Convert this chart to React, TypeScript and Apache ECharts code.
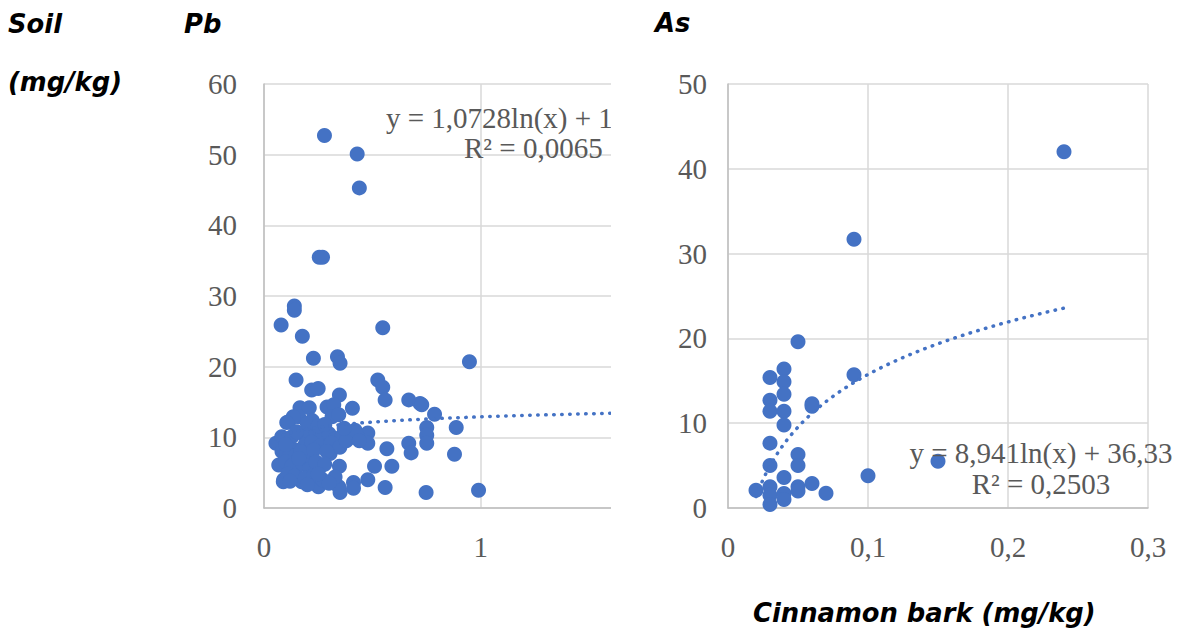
import React, { useEffect, useRef } from "react";
import * as echarts from "echarts";

// Pb: soil (y) vs cinnamon bark (x), mg/kg
const pbPoints: number[][] = [
  [0.279, 52.7], [0.43, 50.1], [0.44, 45.3], [0.255, 35.5], [0.27, 35.5],
  [0.14, 28.6], [0.14, 28.0], [0.079, 25.9], [0.548, 25.5], [0.177, 24.3],
  [0.228, 21.2], [0.339, 21.4], [0.351, 20.5], [0.948, 20.7], [0.148, 18.1],
  [0.525, 18.1], [0.548, 17.1], [0.559, 15.3], [0.22, 16.7], [0.25, 16.9],
  [0.348, 16.0], [0.668, 15.3], [0.72, 14.8], [0.728, 14.6], [0.787, 13.25],
  [0.887, 11.4], [0.751, 11.4], [0.751, 10.3], [0.751, 9.15], [0.668, 9.15],
  [0.679, 7.8], [0.879, 7.6], [0.567, 8.4], [0.59, 5.9], [0.51, 5.9],
  [0.479, 4.0], [0.559, 2.9], [0.748, 2.2], [0.99, 2.5], [0.413, 3.6],
  [0.413, 2.8], [0.351, 2.2], [0.348, 5.9], [0.479, 10.6], [0.479, 9.15],
  [0.408, 14.1], [0.291, 14.3], [0.322, 14.6], [0.166, 14.2], [0.209, 14.2],
  [0.314, 12.9], [0.345, 13.2], [0.114, 12.2], [0.16, 12.9], [0.222, 12.4],
  [0.135, 12.9], [0.105, 12.1], [0.055, 9.15], [0.082, 10.1], [0.129, 10.1],
  [0.083, 8.0], [0.145, 8.2], [0.068, 6.1], [0.091, 4.0], [0.089, 3.7],
  [0.174, 3.7], [0.251, 3.0], [0.345, 3.0], [0.151, 5.85], [0.259, 5.85],
  [0.328, 4.4], [0.212, 7.3], [0.305, 7.7], [0.12, 7.5], [0.18, 10.5],
  [0.2, 11.0], [0.24, 10.4], [0.27, 10.2], [0.3, 10.5], [0.33, 9.8],
  [0.36, 10.2], [0.4, 10.0], [0.43, 10.2], [0.19, 9.0], [0.22, 9.3],
  [0.26, 8.8], [0.31, 9.2], [0.35, 8.6], [0.1, 9.0], [0.15, 10.8],
  [0.2, 12.0], [0.25, 11.6], [0.28, 11.8], [0.17, 8.0], [0.23, 8.2],
  [0.29, 8.0], [0.1, 6.5], [0.13, 6.0], [0.18, 6.2], [0.21, 5.5],
  [0.24, 6.5], [0.28, 6.2], [0.11, 4.8], [0.14, 4.5], [0.19, 4.2],
  [0.23, 4.6], [0.27, 4.0], [0.3, 3.5], [0.12, 3.8], [0.2, 3.3],
  [0.25, 4.8], [0.16, 7.0], [0.38, 9.5], [0.42, 11.0], [0.37, 11.3],
  [0.44, 9.5],
];

// As: soil (y) vs cinnamon bark (x), mg/kg
const asPoints: number[][] = [
  [0.24, 42.0], [0.09, 31.7], [0.05, 19.6], [0.04, 16.4], [0.03, 15.4],
  [0.04, 14.9], [0.04, 13.4], [0.09, 15.7], [0.03, 12.7], [0.03, 11.4],
  [0.04, 11.4], [0.06, 12.3], [0.06, 12.0], [0.04, 9.8], [0.03, 7.65],
  [0.05, 6.3], [0.05, 5.0], [0.03, 5.0], [0.04, 3.6], [0.1, 3.8],
  [0.15, 5.5], [0.02, 2.1], [0.03, 2.5], [0.03, 1.5], [0.03, 0.4],
  [0.04, 1.7], [0.04, 1.0], [0.05, 2.5], [0.05, 2.0], [0.06, 2.9],
  [0.07, 1.75],
];

// Logarithmic trend lines as printed on the chart: y = a*ln(x) + b
const pbTrend = { a: 1.0728, b: 12.9, from: 0.055, to: 1.735 };
const asTrend = { a: 8.941, b: 36.33, from: 0.02, to: 0.24 };

const pbYTicks = { min: 0, max: 60, interval: 10 };
const asYTicks = { min: 0, max: 50, interval: 10 };
const asXTicks = { min: 0, max: 0.3, interval: 0.1 };

function trendCurve(t: { a: number; b: number; from: number; to: number }) {
  const pts: number[][] = [];
  const n = 120;
  for (let i = 0; i <= n; i++) {
    const x = t.from + ((t.to - t.from) * i) / n;
    pts.push([x, t.a * Math.log(x) + t.b]);
  }
  return pts;
}

const BLUE = "#4472C4";
const GRAY_TEXT = "#595959";
const SERIF = "Liberation Serif";
const SANS = "DejaVu Sans";
const TITLE_FONT = `italic bold 25.8px "${SANS}"`;
const SERIF_FONT = `29px "${SERIF}"`;

export default function App() {
  const ref = useRef<HTMLDivElement>(null);
  useEffect(() => {
    if (!ref.current) return;
    const chart = echarts.init(ref.current, undefined, { renderer: "svg" });
    const axisLabel = {
      color: GRAY_TEXT,
      fontFamily: SERIF,
      fontSize: 29,
    };
    const splitLine = { show: true, lineStyle: { color: "#d9d9d9", width: 1.5 } };
    const axisLine = { show: true, lineStyle: { color: "#bfbfbf", width: 1.5 } };
    const comma = (v: number) => String(Math.round(v * 1000) / 1000).replace(".", ",");
    chart.setOption({
      animation: false,
      grid: [
        { left: 264, top: 84, width: 376, height: 424 },
        { left: 728, top: 84, width: 420, height: 424 },
      ],
      xAxis: [
        {
          gridIndex: 0,
          type: "value",
          min: 0,
          max: pbTrend.to,
          interval: 1,
          axisLine,
          axisTick: { show: false },
          splitLine,
          axisLabel: {
            ...axisLabel,
            margin: 24,
            formatter: (v: number) => (Number.isInteger(v) ? String(v) : ""),
          },
        },
        {
          gridIndex: 1,
          type: "value",
          ...asXTicks,
          axisLine,
          axisTick: { show: false },
          splitLine,
          axisLabel: { ...axisLabel, margin: 24, formatter: comma },
        },
      ],
      yAxis: [
        {
          gridIndex: 0,
          type: "value",
          ...pbYTicks,
          axisLine,
          axisTick: { show: false },
          splitLine,
          axisLabel: { ...axisLabel, margin: 27, formatter: comma },
        },
        {
          gridIndex: 1,
          type: "value",
          ...asYTicks,
          axisLine,
          axisTick: { show: false },
          splitLine,
          axisLabel: { ...axisLabel, margin: 21, formatter: comma },
        },
      ],
      series: [
        {
          type: "line",
          xAxisIndex: 0,
          yAxisIndex: 0,
          data: trendCurve(pbTrend),
          showSymbol: false,
          symbol: "none",
          lineStyle: { color: BLUE, width: 3.5, type: [0.5, 7.5], cap: "round" },
          z: 3,
        },
        {
          type: "scatter",
          xAxisIndex: 0,
          yAxisIndex: 0,
          data: pbPoints,
          symbolSize: 15,
          itemStyle: { color: BLUE, opacity: 1 },
          z: 2,
        },
        {
          type: "line",
          xAxisIndex: 1,
          yAxisIndex: 1,
          data: trendCurve(asTrend),
          showSymbol: false,
          symbol: "none",
          lineStyle: { color: BLUE, width: 3.5, type: [0.5, 7.5], cap: "round" },
          z: 3,
        },
        {
          type: "scatter",
          xAxisIndex: 1,
          yAxisIndex: 1,
          data: asPoints,
          symbolSize: 15,
          itemStyle: { color: BLUE, opacity: 1 },
          z: 2,
        },
      ],
      graphic: [
        {
          type: "text",
          left: 386,
          top: 103,
          z: 10,
          style: {
            text: "y = 1,0728ln(x) + 12,9",
            fill: GRAY_TEXT,
            font: SERIF_FONT,
          },
        },
        {
          type: "text",
          left: 464,
          top: 133,
          z: 10,
          style: {
            text: "R² = 0,0065",
            fill: GRAY_TEXT,
            font: SERIF_FONT,
          },
        },
        {
          type: "rect",
          z: 20,
          shape: { x: 611, y: 60, width: 48, height: 480 },
          style: { fill: "#ffffff" },
        },
        {
          type: "text",
          x: 1041,
          y: 453,
          z: 10,
          style: {
            text: "y = 8,941ln(x) + 36,33",
            fill: GRAY_TEXT,
            font: SERIF_FONT,
            textAlign: "center",
            textVerticalAlign: "middle",
          },
        },
        {
          type: "text",
          x: 1041,
          y: 484,
          z: 10,
          style: {
            text: "R² = 0,2503",
            fill: GRAY_TEXT,
            font: SERIF_FONT,
            textAlign: "center",
            textVerticalAlign: "middle",
          },
        },
        {
          type: "text",
          x: 8,
          y: 24,
          style: { text: "Soil", fill: "#000", font: TITLE_FONT, textVerticalAlign: "middle" },
        },
        {
          type: "text",
          x: 8,
          y: 82,
          style: { text: "(mg/kg)", fill: "#000", font: TITLE_FONT, textVerticalAlign: "middle" },
        },
        {
          type: "text",
          x: 184,
          y: 24,
          style: { text: "Pb", fill: "#000", font: TITLE_FONT, textVerticalAlign: "middle" },
        },
        {
          type: "text",
          x: 655,
          y: 23,
          style: { text: "As", fill: "#000", font: TITLE_FONT, textVerticalAlign: "middle" },
        },
        {
          type: "text",
          x: 753,
          y: 613,
          style: {
            text: "Cinnamon bark (mg/kg)",
            fill: "#000",
            font: TITLE_FONT,
            textVerticalAlign: "middle",
          },
        },
      ],
    });
    return () => chart.dispose();
  }, []);
  return (
    <div
      ref={ref}
      style={{ position: "fixed", left: 0, top: 0, width: 1182, height: 632, background: "#fff" }}
    />
  );
}
